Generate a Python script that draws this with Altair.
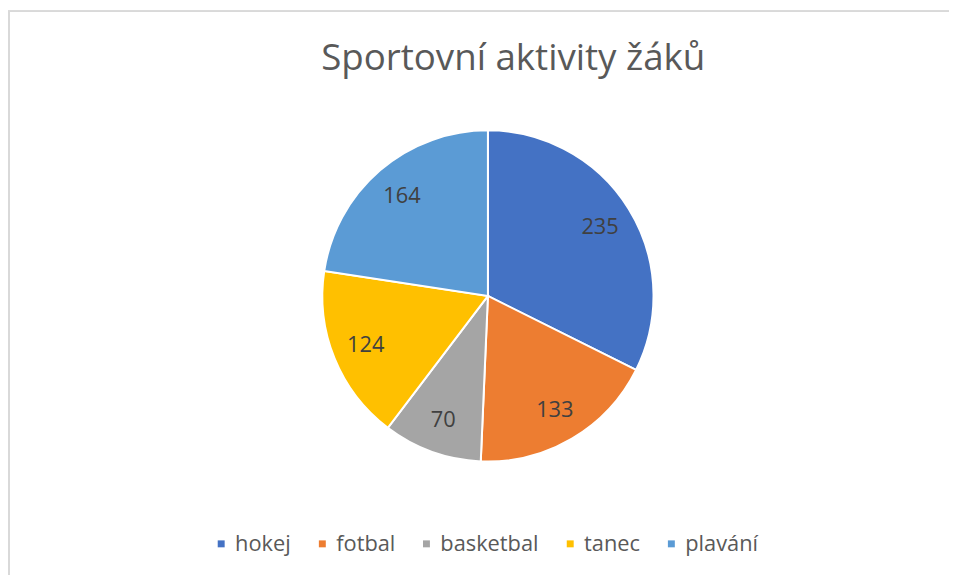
import altair as alt
import pandas as pd

categories = ["hokej", "fotbal", "basketbal", "tanec", "plavání"]
values = [235, 133, 70, 124, 164]
colors = ["#4472C4", "#ED7D31", "#A5A5A5", "#FFC000", "#5B9BD5"]
title_text = "Sportovní aktivity žáků"

df = pd.DataFrame({"sport": categories, "pocet": values, "poradi": list(range(len(categories)))})

FONT = "Open Sans"
CX, CY = 484, 288

base = alt.Chart(df).encode(
    theta=alt.Theta("pocet:Q", stack=True),
    order=alt.Order("poradi:Q"),
)

pie = base.mark_arc(outerRadius=167, stroke="white", strokeWidth=2).encode(
    x=alt.value(CX), y=alt.value(CY),
    color=alt.Color(
        "sport:N",
        scale=alt.Scale(domain=categories, range=colors),
        sort=categories,
        legend=alt.Legend(
            title=None, orient="none", direction="horizontal",
            legendX=204, legendY=527,
            symbolType="square", symbolSize=49, symbolStrokeWidth=0,
            labelFont=FONT, labelFontSize=22, labelColor="#595959",
            columnPadding=20, labelOffset=3,
        ),
    ),
)

labels = base.mark_text(radius=133, font=FONT, fontSize=22, color="#404040").encode(
    x=alt.value(CX), y=alt.value(CY),
    text="pocet:Q",
)

border = alt.Chart(df).mark_rect(fill=None, stroke="#D9D9D9", strokeWidth=1.5).encode(
    x=alt.value(0.75), y=alt.value(0.75), x2=alt.value(1200), y2=alt.value(1200)
)

chart = alt.layer(border, pie, labels).properties(
    width=949, height=567,
    title=alt.TitleParams(title_text, font=FONT, fontSize=37, fontWeight="normal",
                          color="#595959", anchor="middle", dx=35, offset=-68),
    autosize=alt.AutoSizeParams(type="none"),
    padding=0,
).configure_view(stroke=None)

chart.save("out.html", embed_options={"renderer": "svg", "actions": False})
